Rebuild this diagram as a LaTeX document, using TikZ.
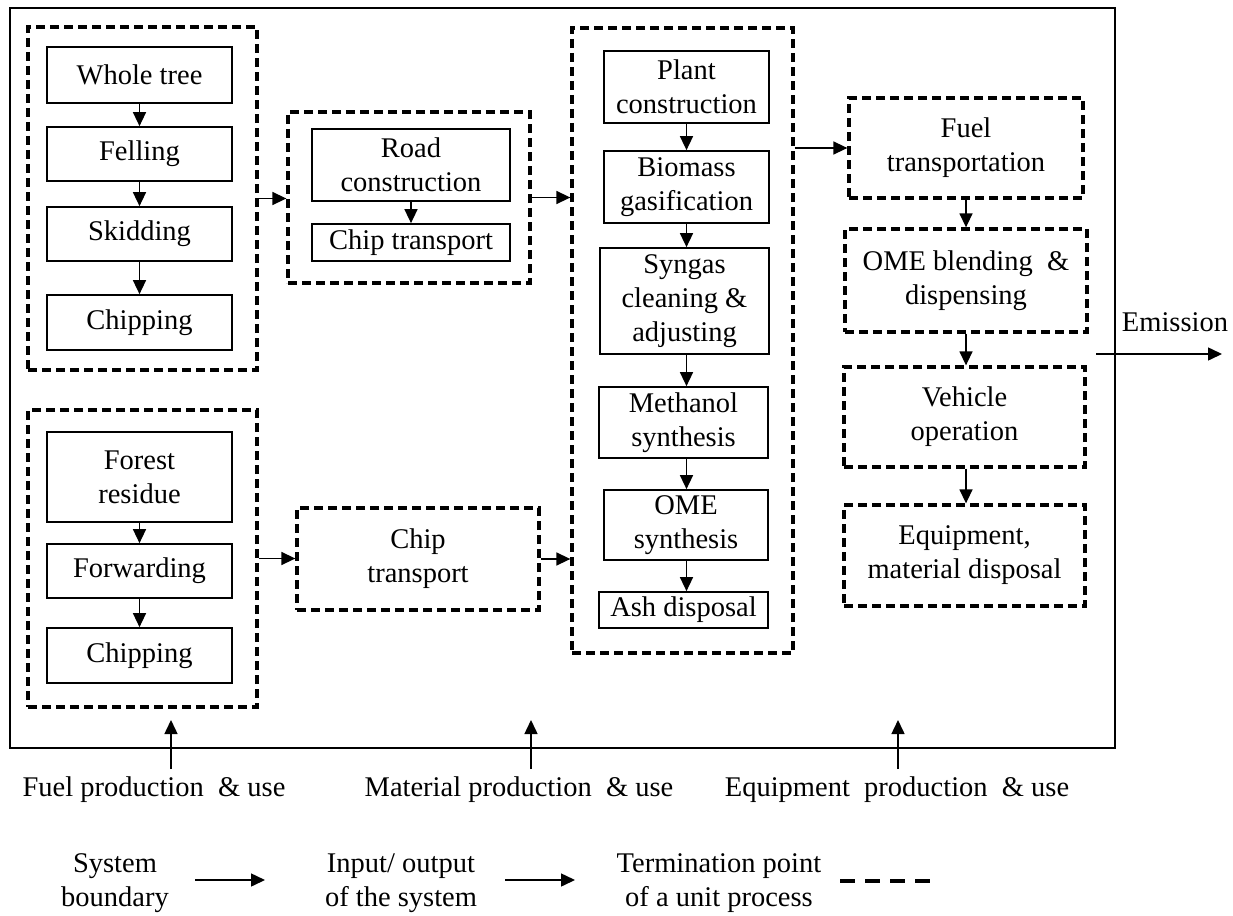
\documentclass[tikz,border=0pt]{standalone}
\usepackage{fontspec}
\setmainfont{Liberation Serif}
\usetikzlibrary{arrows.meta}
\newcommand\dgfont{\fontsize{28.5}{34}\selectfont}
\tikzset{
  proc/.style={draw, line width=1.7pt, inner sep=0pt, align=center, font=\dgfont},
  unitbox/.style={draw, line width=3.3pt, dash pattern=on 9pt off 5pt, inner sep=0pt, align=center, font=\dgfont},
  boundary/.style={draw, line width=1.8pt, inner sep=0pt},
  arr/.style={line width=1.5pt, -{Triangle[length=14pt,width=13pt]}},
  lbl/.style={inner sep=0pt, align=center, font=\dgfont},
}
\begin{document}
\begin{tikzpicture}[x=1pt,y=-1pt]
\useasboundingbox (0,0) rectangle (1233,915);
% system boundary
\node[boundary, minimum width=1105pt, minimum height=740pt] (sys) at (562.5,378) {};
% group A: whole tree
\node[unitbox, minimum width=229pt, minimum height=343pt] (grpA) at (142.5,198.5) {};
\node[proc, minimum width=185pt, minimum height=56pt] (wt) at (139.5,75) {Whole tree};
\node[proc, minimum width=185pt, minimum height=54pt] (fel) at (139.5,154) {Felling};
\node[proc, minimum width=185pt, minimum height=54pt] (skid) at (139.5,234) {Skidding};
\node[proc, minimum width=185pt, minimum height=55pt] (chipA) at (139.5,322.5) {Chipping};
% group R: road
\node[unitbox, minimum width=242pt, minimum height=171pt] (grpR) at (409,197.5) {};
\node[proc, minimum width=198pt, minimum height=72pt] (road) at (411,165) {Road\\construction};
\node[proc, minimum width=198pt, minimum height=37pt] (chipT) at (411,242.5) {Chip transport};
% group B: forest residue
\node[unitbox, minimum width=229pt, minimum height=297pt] (grpB) at (142.5,558.5) {};
\node[proc, minimum width=185pt, minimum height=90pt] (fr) at (139.5,477) {Forest\\residue};
\node[proc, minimum width=185pt, minimum height=54pt] (fwd) at (139.5,571) {Forwarding};
\node[proc, minimum width=185pt, minimum height=55pt] (chipB) at (139.5,655.5) {Chipping};
% chip transport unit
\node[unitbox, minimum width=242pt, minimum height=102pt] (chipD) at (418,559) {Chip\\transport};
% group P: plant
\node[unitbox, minimum width=221pt, minimum height=625pt] (grpP) at (682.5,340.5) {};
\node[proc, minimum width=165pt, minimum height=72pt] (plant) at (686.5,87) {Plant\\construction};
\node[proc, minimum width=165pt, minimum height=72pt] (bio) at (686.5,187) {Biomass\\gasification};
\node[proc, minimum width=169pt, minimum height=106pt] (syn) at (684.5,301) {Syngas\\cleaning \&\\adjusting};
\node[proc, minimum width=169pt, minimum height=71pt] (meth) at (683.5,422.5) {Methanol\\synthesis};
\node[proc, minimum width=164pt, minimum height=70pt] (omes) at (686,525) {OME\\synthesis};
\node[proc, minimum width=169pt, minimum height=36pt] (ash) at (683.5,610) {Ash disposal};
% right column
\node[unitbox, minimum width=234pt, minimum height=100pt] (ft) at (966,148) {Fuel\\transportation};
\node[unitbox, minimum width=242pt, minimum height=103pt] (omeb) at (966,280.5) {OME blending \ \&\\dispensing};
\node[unitbox, minimum width=241pt, minimum height=100pt] (veh) at (964.5,417) {Vehicle\\operation};
\node[unitbox, minimum width=241pt, minimum height=101pt] (equip) at (964.5,555.5) {Equipment,\\material disposal};
% vertical arrows
\draw[arr] (wt.south) -- (fel.north);
\draw[arr] (fel.south) -- (skid.north);
\draw[arr] (skid.south) -- (chipA.north);
\draw[arr] (road.south) -- (chipT.north);
\draw[arr] (fr.south) -- (fwd.north);
\draw[arr] (fwd.south) -- (chipB.north);
\draw[arr] (plant.south) -- (plant.south |- bio.north);
\draw[arr] (bio.south) -- (bio.south |- syn.north);
\draw[arr] (bio.south |- syn.south) -- (bio.south |- meth.north);
\draw[arr] (bio.south |- meth.south) -- (bio.south |- omes.north);
\draw[arr] (bio.south |- omes.south) -- (bio.south |- ash.north);
\draw[arr] (ft.south) -- (ft.south |- omeb.north);
\draw[arr] (ft.south |- omeb.south) -- (ft.south |- veh.north);
\draw[arr] (ft.south |- veh.south) -- (ft.south |- equip.north);
% horizontal arrows
\draw[arr] (grpA.east) -- (grpA.east -| grpR.west);
\draw[arr] (grpR.east) -- (grpR.east -| grpP.west);
\draw[arr] (grpB.east) -- (grpB.east -| chipD.west);
\draw[arr] (chipD.east) -- (chipD.east -| grpP.west);
\draw[arr] (grpP.east |- ft.west) -- (ft.west);
% emission
\coordinate (em1) at (1096,354);
\coordinate (em2) at (1222,354);
\draw[arr] (em1) -- (em2);
\node[lbl] (emis) at (1175,322) {Emission};
% inputs from below
\node[lbl] (fuelL) at (154,790) {Fuel production \ \& use};
\node[lbl] (matL) at (519,790) {Material production \ \& use};
\node[lbl] (eqL) at (897,790) {Equipment \ production \ \& use};
\coordinate (in1) at (171,769);
\coordinate (in2) at (531,769);
\coordinate (in3) at (898,769);
\draw[arr] (in1) -- (171,720);
\draw[arr] (in2) -- (531,720);
\draw[arr] (in3) -- (898,720);
% legend
\node[lbl] (lg1) at (115,883) {System\\boundary};
\node[lbl] (lg2) at (401,883) {Input/ output\\of the system};
\node[lbl] (lg3) at (719,883) {Termination point\\of a unit process};
\coordinate (la1) at (195,880);
\coordinate (la2) at (265,880);
\coordinate (lb1) at (505,880);
\coordinate (lb2) at (575,880);
\coordinate (lc1) at (840,881);
\coordinate (lc2) at (932,881);
\draw[arr] (la1) -- (la2);
\draw[arr] (lb1) -- (lb2);
\draw[line width=4pt, dash pattern=on 15pt off 10pt] (lc1) -- (lc2);
\end{tikzpicture}
\end{document}
